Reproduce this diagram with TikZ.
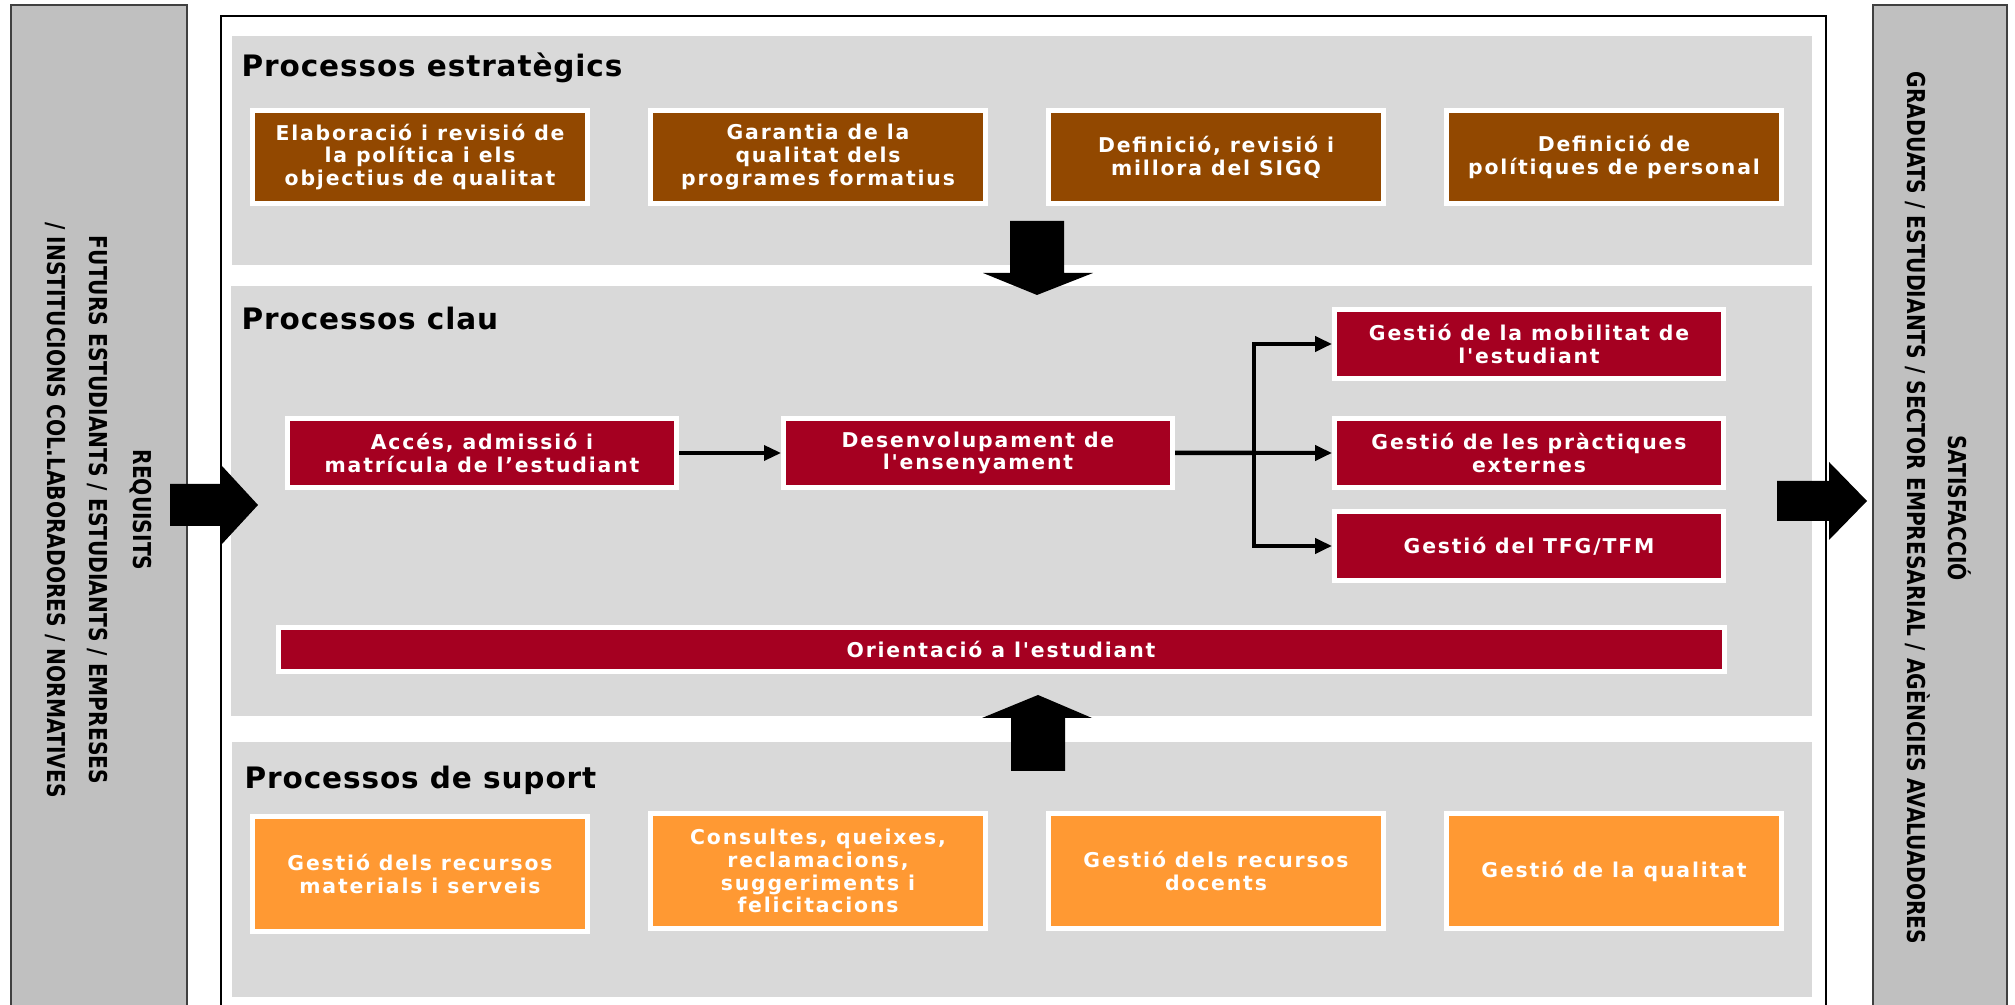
\documentclass[tikz,border=0pt]{standalone}
\usepackage{fontspec}
\setmainfont{DejaVu Sans}
\newfontfamily\boxfont[LetterSpace=9]{DejaVu Sans}
\newfontfamily\titlefont[LetterSpace=3]{DejaVu Sans}
\newfontfamily\sidefont[FakeStretch=0.82]{DejaVu Sans}
\usetikzlibrary{arrows.meta,calc,positioning}
\definecolor{stratbrown}{RGB}{146,72,0}
\definecolor{keyred}{RGB}{165,0,33}
\definecolor{supporange}{RGB}{255,153,51}
\definecolor{panelgrey}{RGB}{217,217,217}
\definecolor{sidegrey}{RGB}{192,192,192}
\tikzset {
  >={Triangle[length=1.7mm,width=1.5mm]},
  procbox/.style={draw=white, line width=0.5mm, text=white, align=center,
    inner sep=0pt, font=\boxfont\bfseries\fontsize{5.8}{6.5}\selectfont},
  stratbox/.style={procbox, fill=stratbrown, minimum width=33.5mm, minimum height=9.3mm},
  keybox/.style={procbox, fill=keyred, minimum width=38.9mm, minimum height=6.9mm},
  suppbox/.style={procbox, fill=supporange, minimum width=33.5mm, minimum height=11.5mm},
  paneltitle/.style={anchor=base west, inner sep=0pt,
    font=\titlefont\bfseries\fontsize{8.4}{10}\selectfont},
  sidetext/.style={rotate=-90, inner sep=0pt,
    font=\sidefont\bfseries\fontsize{7}{8.4}\selectfont},
  flow/.style={->, line width=0.4mm},
}

\begin{document}
\begin{tikzpicture}[x=0.1mm, y=-0.1mm]
  \path[use as bounding box] (0,0) rectangle (2015,1005);
  \clip (0,0) rectangle (2015,1005);
  % side panels and frame
  \filldraw[fill=sidegrey, draw=black!75, line width=0.15mm] (11,5) rectangle (187,1020);
  \filldraw[fill=sidegrey, draw=black!75, line width=0.15mm] (1873,5) rectangle (2007,1020);
  \draw[line width=0.15mm] (221,16) rectangle (1826,1020);
  \fill[panelgrey] (232,36) rectangle (1812,265);
  \fill[panelgrey] (231,286) rectangle (1812,716);
  \fill[panelgrey] (232,742) rectangle (1812,997);

  \node[sidetext] (requisits) at (141,510) {REQUISITS};
  \node[sidetext] (futurs) at (97,510) {FUTURS ESTUDIANTS / ESTUDIANTS / EMPRESES};
  \node[sidetext] (institucions) at (55,510) {/ INSTITUCIONS COL.LABORADORES / NORMATIVES};
  \node[sidetext] (satisfaccio) at (1960,508) {SATISFACCIÓ};
  \node[sidetext] (graduats) at (1918,508) {GRADUATS / ESTUDIANTS / SECTOR EMPRESARIAL / AGÈNCIES AVALUADORES};

  % processos estrategics
  \node[paneltitle] (strattitle) at (241,77) {Processos estratègics};
  \node[stratbox] (politica) at (420,157) {Elaboració i revisió de\\la política i els\\objectius de qualitat};
  \node[stratbox] (garantia) at (818,157) {Garantia de la\\qualitat dels\\programes formatius};
  \node[stratbox] (sigq) at (1216,157) {Definició, revisió i\\millora del SIGQ};
  \node[stratbox] (personal) at (1614,157) {Definició de\\polítiques de personal};

  % processos clau
  \node[paneltitle] (keytitle) at (241,330) {Processos clau};
  \node[keybox] (acces) at (482,453) {Accés, admissió i\\matrícula de l’estudiant};
  \node[keybox] (desenv) at (978,453) {Desenvolupament de\\l'ensenyament};
  \node[keybox] (mobilitat) at (1529,344) {Gestió de la mobilitat de\\l'estudiant};
  \node[keybox] (practiques) at (1529,453) {Gestió de les pràctiques\\externes};
  \node[keybox] (tfg) at (1529,546) {Gestió del TFG/TFM};
  \node[keybox, minimum width=144.6mm, minimum height=4.4mm] (orientacio) at (1001,650) {Orientació a l'estudiant};

  \coordinate (fork) at ($(desenv.east)!.5!(practiques.west)$);
  \draw[flow, line width=0.35mm] (acces.east) -- (desenv.west);
  \draw[line width=0.45mm] (desenv.east) -- (fork);
  \draw[flow] (fork) -- (practiques.west);
  \draw[flow] (fork) |- (mobilitat.west);
  \draw[flow] (fork) |- (tfg.west);

  % processos de suport
  \node[paneltitle] (supptitle) at (244,789) {Processos de suport};
  \node[suppbox] (materials) at (420,874) {Gestió dels recursos\\materials i serveis};
  \node[suppbox] (queixes) at (818,871) {Consultes, queixes,\\reclamacions,\\suggeriments i\\felicitacions};
  \node[suppbox] (docents) at (1216,871) {Gestió dels recursos\\docents};
  \node[suppbox] (qualitat) at (1614,871) {Gestió de la qualitat};

  % block arrows
  \fill (170,484) -- (222,484) -- (222,466) -- (258,505) -- (222,544) -- (222,526) -- (170,526) -- cycle;
  \fill (1777,481) -- (1829,481) -- (1829,462) -- (1867,501) -- (1829,540) -- (1829,521) -- (1777,521) -- cycle;
  \fill (1010,221) -- (1064,221) -- (1064,273) -- (1093,273) -- (1037,295) -- (983,273) -- (1010,273) -- cycle;
  \fill (1011,771) -- (1065,771) -- (1065,718) -- (1092,718) -- (1038,695) -- (982,718) -- (1011,718) -- cycle;
\end{tikzpicture}
\end{document}
